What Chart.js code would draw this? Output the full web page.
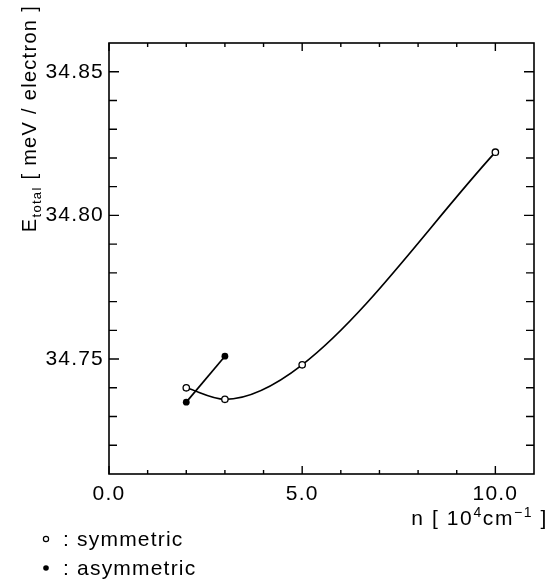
<!DOCTYPE html>
<html lang="en">
<head>
  <meta charset="UTF-8">
  <title>E_total vs n</title>
  <style>
    html, body { margin: 0; padding: 0; background: #fff; }
    #wrap { width: 550px; height: 583px; position: relative; }
  </style>
</head>
<body>
<div id="wrap"><canvas id="energyChart"></canvas></div>

<script src="https://cdn.jsdelivr.net/npm/chart.js"></script>
<script>
  // data (n in 10^4 cm^-1, energy in meV/electron)
  const symN = [2, 3, 5, 10];
  const symE = [34.740, 34.736, 34.748, 34.822];
  const asymN = [2, 3];
  const asymE = [34.735, 34.751];

  const xTicks = [0, 5, 10];
  const yTicks = [34.75, 34.80, 34.85];
  const xMinor = [0, 1, 2, 3, 4, 5, 6, 7, 8, 9, 10];
  const yMinor = [34.72, 34.73, 34.74, 34.75, 34.76, 34.77, 34.78, 34.79, 34.80, 34.81, 34.82, 34.83, 34.84, 34.85];

  const FONT = "'Liberation Sans', Arial, sans-serif";

  // the scanned figure uses a slightly wider set Helvetica
  const spacingPlugin = {
    id: 'spacing',
    beforeDraw(chart) { chart.ctx.letterSpacing = '1.2px'; }
  };

  // frame, inward ticks on all four sides, axis titles and the key
  const framePlugin = {
    id: 'frame',
    afterDraw(chart) {
      const ctx = chart.ctx;
      const a = chart.chartArea;
      const xs = chart.scales.x, ys = chart.scales.y;
      ctx.save();
      ctx.strokeStyle = '#000';
      ctx.lineWidth = 1.6;
      ctx.strokeRect(a.left, a.top, a.right - a.left, a.bottom - a.top);

      ctx.lineWidth = 1.4;
      ctx.beginPath();
      xMinor.forEach(v => {
        const px = xs.getPixelForValue(v);
        const len = xTicks.includes(v) ? 8 : 4;
        ctx.moveTo(px, a.bottom); ctx.lineTo(px, a.bottom - len);
        ctx.moveTo(px, a.top); ctx.lineTo(px, a.top + len);
      });
      yMinor.forEach(v => {
        const py = ys.getPixelForValue(v);
        const len = yTicks.includes(v) ? 10 : 8;
        ctx.moveTo(a.left, py); ctx.lineTo(a.left + len, py);
        ctx.moveTo(a.right, py); ctx.lineTo(a.right - len, py);
      });
      ctx.stroke();

      ctx.fillStyle = '#000';
      ctx.textBaseline = 'alphabetic';

      // y title, rotated, with subscript; its end sits near the top edge
      const yParts = [['E', 20, 0], ['total', 13, 5], [' [ meV / electron ]', 20, 0]];
      ctx.letterSpacing = '1.3px';
      let w = 0;
      yParts.forEach(p => { ctx.font = p[1] + 'px ' + FONT; w += ctx.measureText(p[0]).width; });
      ctx.save();
      ctx.translate(36, 5 + w);
      ctx.rotate(-Math.PI / 2);
      let x = 0;
      yParts.forEach(p => {
        ctx.font = p[1] + 'px ' + FONT;
        ctx.fillText(p[0], x, p[2]);
        x += ctx.measureText(p[0]).width;
      });
      ctx.restore();

      // x title with superscripts, right aligned
      const parts = [['n [ 10', 21, 0], ['4', 14, -8], ['cm', 21, 0], ['\u22121', 14, -8], [' ]', 21, 0]];
      ctx.letterSpacing = '1.6px';
      w = 0;
      parts.forEach(p => { ctx.font = p[1] + 'px ' + FONT; w += ctx.measureText(p[0]).width; });
      x = 548 - w;
      parts.forEach(p => {
        ctx.font = p[1] + 'px ' + FONT;
        ctx.fillText(p[0], x, 525 + p[2]);
        x += ctx.measureText(p[0]).width;
      });

      // key
      ctx.letterSpacing = '1.2px';
      ctx.font = '21px ' + FONT;
      ctx.lineWidth = 1.2;
      ctx.beginPath();
      ctx.arc(46, 539, 2.6, 0, Math.PI * 2);
      ctx.stroke();
      ctx.fillText(': symmetric', 63, 546);
      ctx.beginPath();
      ctx.arc(46, 568, 2.8, 0, Math.PI * 2);
      ctx.fill();
      ctx.fillText(': asymmetric', 63, 575);
      ctx.restore();
    }
  };

  const ctx = document.getElementById('energyChart').getContext('2d');
  new Chart(ctx, {
    type: 'scatter',
    data: {
      datasets: [{
        label: 'symmetric',
        data: symN.map((n, i) => ({ x: n, y: symE[i] })),
        showLine: true,
        cubicInterpolationMode: 'monotone',
        borderColor: '#000',
        borderWidth: 1.7,
        pointRadius: 3.2,
        pointBorderWidth: 1.3,
        pointBackgroundColor: '#fff',
        pointBorderColor: '#000'
      }, {
        label: 'asymmetric',
        data: asymN.map((n, i) => ({ x: n, y: asymE[i] })),
        showLine: true,
        tension: 0,
        borderColor: '#000',
        borderWidth: 1.7,
        pointRadius: 3.4,
        pointBorderWidth: 0,
        pointBackgroundColor: '#000',
        pointBorderColor: '#000'
      }]
    },
    options: {
      responsive: true,
      maintainAspectRatio: false,
      animation: false,
      events: [],
      layout: { padding: { left: 0, top: 43, right: 16, bottom: 0 } },
      plugins: { legend: { display: false }, tooltip: { enabled: false } },
      scales: {
        x: {
          type: 'linear',
          min: 0,
          max: 11,
          grid: { display: false, drawTicks: false },
          border: { display: false },
          afterBuildTicks: s => { s.ticks = xTicks.map(v => ({ value: v })); },
          afterFit: s => { s.height = 109; },
          ticks: {
            padding: 8,
            maxRotation: 0,
            color: '#000',
            font: { family: FONT, size: 21 },
            callback: v => v.toFixed(1)
          }
        },
        y: {
          type: 'linear',
          min: 34.71,
          max: 34.86,
          grid: { display: false, drawTicks: false },
          border: { display: false },
          afterBuildTicks: s => { s.ticks = yTicks.map(v => ({ value: v })); },
          afterFit: s => { s.width = 109; },
          ticks: {
            padding: 5,
            color: '#000',
            font: { family: FONT, size: 21 },
            callback: v => v.toFixed(2)
          }
        }
      }
    },
    plugins: [spacingPlugin, framePlugin]
  });
</script>
</body>
</html>
